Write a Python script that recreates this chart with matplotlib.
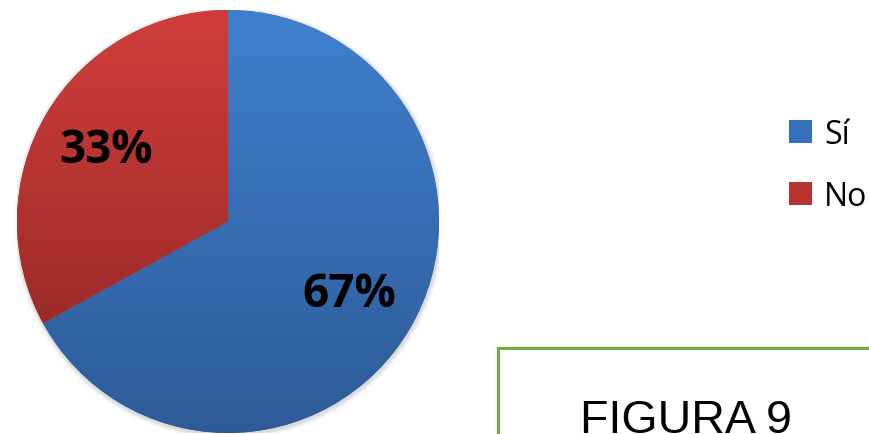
import numpy as np
import matplotlib
matplotlib.use("Agg")
import matplotlib.pyplot as plt
from matplotlib.colors import LinearSegmentedColormap
from matplotlib.patches import Rectangle, Circle

categories = ["Sí", "No"]
values = [67, 33]
figure_label = "FIGURA 9"

base_colors = ["#3670b8", "#b8332f"]
grad_top = ["#3f80ce", "#d03e3b"]
grad_bottom = ["#2d5b97", "#9d2b29"]

W, H = 869, 435
fig = plt.figure(figsize=(W / 100, H / 100), dpi=100)

ax = fig.add_axes([17 / W, 1 / H, 422 / W, 423 / H])
ax.set_xlim(-1, 1)
ax.set_ylim(-1, 1)
ax.axis("off")

# soft shadow
for i, a in enumerate([0.05, 0.04, 0.03, 0.02]):
    ax.add_patch(Circle((0.004, -0.008), 1.0 + 0.006 * (i + 1), color="#000000",
                        alpha=a, lw=0, zorder=0.5))

wedges, texts, autotexts = ax.pie(
    values, startangle=90, counterclock=False, colors=base_colors,
    autopct="%1.0f%%", pctdistance=0.67, radius=1,
    wedgeprops=dict(linewidth=0),
    textprops=dict(fontsize=33, fontweight="bold", family="Open Sans", color="#000000"))

for w, top, bot in zip(wedges, grad_top, grad_bottom):
    v = w.get_path().vertices
    ymin, ymax = v[:, 1].min(), v[:, 1].max()
    cmap = LinearSegmentedColormap.from_list("g", [bot, top])
    grad = np.linspace(0, 1, 256).reshape(-1, 1)
    im = ax.imshow(grad, extent=[-1, 1, ymin, ymax], origin="lower", cmap=cmap,
                   aspect="auto", zorder=1.5, interpolation="bilinear")
    im.set_clip_path(w)
for t in autotexts:
    t.set_zorder(5)
ax.set_xlim(-1, 1)
ax.set_ylim(-1, 1)

leg = fig.legend(wedges, categories, loc="upper left",
                 bbox_to_anchor=(789 / W, 1 - 119 / H),
                 frameon=False, handlelength=0.72, handleheight=0.72,
                 handletextpad=0.38, labelspacing=0.9, borderpad=0, borderaxespad=0,
                 prop=dict(family="Open Sans", size=23))

fig.add_artist(Rectangle((498 / W, -0.05), 0.6, (435 - 349) / H + 0.05,
                         transform=fig.transFigure, fill=False,
                         edgecolor="#70ad47", linewidth=2.2))
fig.text(580 / W, 2 / H, figure_label, fontsize=33.5, family="Liberation Sans",
         va="baseline", ha="left", color="#000000")

fig.savefig("out.png", dpi=100)
